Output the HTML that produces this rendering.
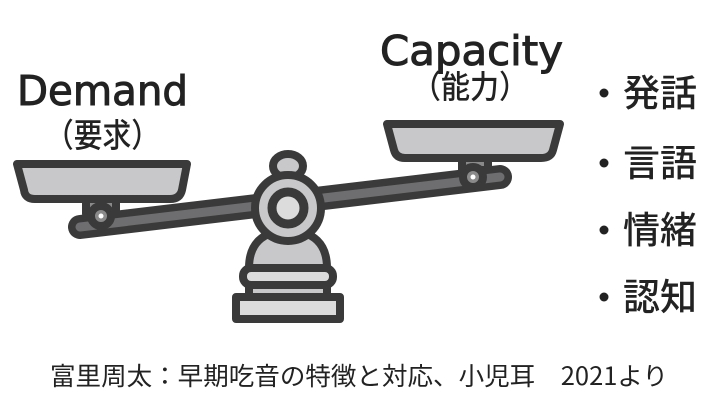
<!DOCTYPE html>
<html><head><meta charset="utf-8"><style>
html,body{margin:0;padding:0;background:#fff;}
svg{display:block;}
text{fill:#222;}
</style></head><body>
<svg width="710" height="400" viewBox="0 0 710 400" xmlns="http://www.w3.org/2000/svg">
<g font-family="'DejaVu Sans','Liberation Sans','Noto Sans CJK JP',sans-serif" stroke="#222" stroke-width="1">
<text x="17" y="105" font-size="41" textLength="171" lengthAdjust="spacingAndGlyphs">Demand</text>
<text x="380" y="65" font-size="41" textLength="183" lengthAdjust="spacingAndGlyphs">Capacity</text>
</g>
<g font-family="'Noto Sans CJK JP',sans-serif" font-weight="500">
<text x="45" y="147" font-size="33" textLength="115" lengthAdjust="spacingAndGlyphs">（要求）</text>
<text x="412" y="98" font-size="32" textLength="116" lengthAdjust="spacingAndGlyphs">（能力）</text>
</g>
<g font-family="'Noto Sans CJK JP',sans-serif" font-size="37" font-weight="500">
<circle cx="604" cy="93" r="4.5" fill="#222"/><text x="623" y="106">発話</text>
<circle cx="604" cy="163" r="4.5" fill="#222"/><text x="623" y="176">言語</text>
<circle cx="604" cy="230" r="4.5" fill="#222"/><text x="623" y="243">情緒</text>
<circle cx="604" cy="297" r="4.5" fill="#222"/><text x="623" y="310">認知</text>
</g>
<text x="50" y="385" font-size="25" font-family="'Noto Sans CJK JP',sans-serif" textLength="618" lengthAdjust="spacingAndGlyphs">富里周太：早期吃音の特徴と対応、小児耳　2021より</text>

<g stroke="#3a3a3a" stroke-width="8" stroke-linejoin="round">
<rect x="86" y="196" width="30" height="18" fill="#8a8a8a"/>
<rect x="462" y="152" width="26" height="18" fill="#8a8a8a"/>
<line x1="80" y1="227" x2="500" y2="177" stroke="#3a3a3a" stroke-width="24" stroke-linecap="round"/>
<line x1="80" y1="227" x2="500" y2="177" stroke="#6e6e70" stroke-width="9" stroke-linecap="round"/>
<path d="M17 164 L187 164 L182 190 Q180 199 170 199 L35 199 Q25 199 24 190 Z" fill="#c8c8ca"/>
<path d="M387 124 L560 124 L553 150 Q551 158 541 158 L405 158 Q396 158 394 150 Z" fill="#c8c8ca"/>
<circle cx="101" cy="216" r="10" fill="#8a8a8a"/>
<circle cx="473" cy="177" r="10" fill="#8a8a8a"/>
<path d="M249 268 Q249 232 288 230 Q327 232 327 268 Z" fill="#c8c8ca"/>
<rect x="243" y="268" width="90" height="17" rx="8" fill="#dcdcdc"/>
<rect x="249" y="285" width="78" height="12" fill="#c8c8ca"/>
<rect x="236" y="297" width="104" height="22" fill="#dcdcdc"/>
<ellipse cx="288" cy="166" rx="15" ry="12" fill="#c8c8ca"/>
<circle cx="288" cy="208" r="33" fill="#c8c8ca"/>
<circle cx="288" cy="208" r="16" fill="#dcdcdc" stroke-width="9"/>
</g>
<circle cx="101" cy="216" r="2.5" fill="#fff"/>
<circle cx="473" cy="177" r="2.5" fill="#fff"/>
</svg>
</body></html>
